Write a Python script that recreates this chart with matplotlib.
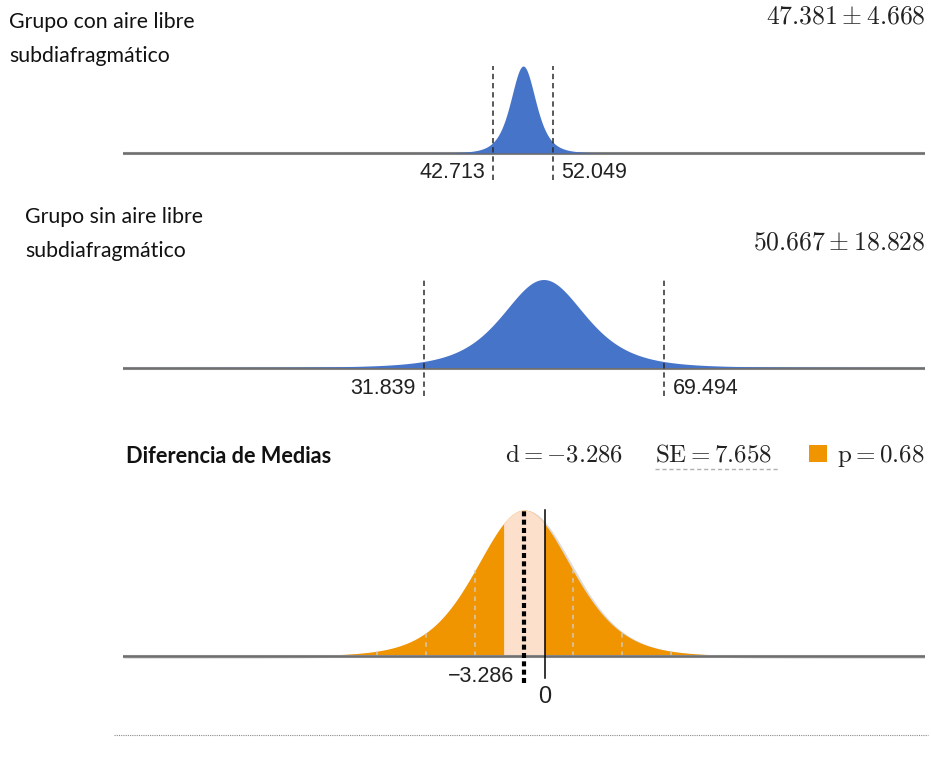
import numpy as np
import matplotlib.pyplot as plt
from matplotlib.lines import Line2D
from matplotlib.patches import Rectangle

# data
group_labels = ['Grupo con aire libre\nsubdiafragmático',
                'Grupo sin aire libre\nsubdiafragmático']
group_means = [47.381, 50.667]
group_half = [4.668, 18.828]
group_low = [42.713, 31.839]
group_high = [52.049, 69.494]
group_scale = [2.05, 6.78]   # spread of the drawn curves

diff_title = 'Diferencia de Medias'
diff_d = -3.286
diff_se = 7.658
diff_p = 0.68

DF_GROUP = 4
DF_DIFF = 8

W, H = 931, 761
BLUE = '#4674C9'
ORANGE = '#F09400'
LIGHT = '#FDE0CB'
BASE = '#858585'
WORD_FONT = ['Lato', 'DejaVu Sans']
LABEL_FONT = ['Liberation Sans', 'DejaVu Sans']

plt.rcParams['mathtext.fontset'] = 'cm'


def tcurve(x, mu, s, df):
    z = (x - mu) / s
    return (1 + z ** 2 / df) ** (-(df + 1) / 2)


def fx(px):
    return px / W


def fy(py):
    return 1 - py / H


def panel(fig, top, bottom, base, peak, xlim):
    # axes in pixel box; y=0 at baseline, y=1 at curve peak
    ax = fig.add_axes([fx(123), fy(bottom), fx(925) - fx(123), (bottom - top) / H])
    unit = base - peak
    ax.set_ylim(-(bottom - base) / unit, (base - top) / unit)
    ax.set_xlim(*xlim)
    ax.axis('off')
    return ax


fig = plt.figure(figsize=(W / 100, H / 100), dpi=100)

group_xlim = (-15.34, 110.37)
boxes = [(55, 195, 153, 66), (270, 410, 368, 280)]
label_pos = [(9, 28), (25, 223)]
stat_y = [23, 250]
label_y = [172, 388]

for i in range(2):
    top, bottom, base, peak = boxes[i]
    unit = base - peak
    ax = panel(fig, top, bottom, base, peak, group_xlim)
    s = group_scale[i]
    x = np.linspace(group_means[i] - 14 * s, group_means[i] + 14 * s, 800)
    y = tcurve(x, group_means[i], s, DF_GROUP)
    ax.fill_between(x, 0, y, color=BLUE, lw=0, zorder=2)
    ax.axhline(0, color=BASE, lw=2.2, zorder=1)
    ax.axhline(0, color='#5a5a5a', lw=0.6, zorder=3, alpha=0.6)
    bot = -(label_y[i] + 8 - base) / unit
    for v in (group_low[i], group_high[i]):
        ax.plot([v, v], [bot, 1.0], color='#2b2b2b', lw=1.1,
                ls=(0, (3.5, 2.5)), zorder=4, clip_on=False)
    ax.text(group_low[i] - 1.3, -(label_y[i] - base) / unit,
            f'{group_low[i]:.3f}', ha='right', va='center',
            fontsize=15.5, family=LABEL_FONT, color='#222222')
    ax.text(group_high[i] + 1.3, -(label_y[i] - base) / unit,
            f'{group_high[i]:.3f}', ha='left', va='center',
            fontsize=15.5, family=LABEL_FONT, color='#222222')

    lx, ly = label_pos[i]
    lines = group_labels[i].split('\n')
    fig.text(fx(lx), fy(ly), lines[0], ha='left', va='baseline',
             fontsize=15.3, family=WORD_FONT, color='#111111')
    fig.text(fx(lx), fy(ly + 34), lines[1], ha='left', va='baseline',
             fontsize=15.3, family=WORD_FONT, color='#111111')
    fig.text(fx(926), fy(stat_y[i]),
             r'$%.3f \pm %.3f$' % (group_means[i], group_half[i]),
             ha='right', va='baseline', fontsize=18.5, color='#222222')

# difference panel
diff_xlim = (-66.14, 59.56)
base, peak = 656, 510
ax = panel(fig, 500, 715, base, peak, diff_xlim)
unit = base - peak
x = np.linspace(-66.14, 59.56, 1200)
y = tcurve(x, diff_d, diff_se, DF_DIFF)
ax.plot(x + 0.35, y - 0.012, color='#bbbbbb', lw=1.5, alpha=0.5, zorder=1)
ax.fill_between(x, 0, y, color=ORANGE, lw=0, zorder=2)
inner = (x >= 2 * diff_d) & (x <= 0)
ax.fill_between(x[inner], 0, y[inner], color=LIGHT, lw=0, zorder=3)
for k in (-3, -2, -1, 1, 2, 3):
    v = diff_d + k * diff_se
    ax.plot([v, v], [0, tcurve(v, diff_d, diff_se, DF_DIFF)], color='#cfcfcf',
            lw=1.1, ls=(0, (3, 3)), alpha=0.9, zorder=4)
ax.axhline(0, color=BASE, lw=2.2, zorder=5)
ax.axhline(0, color='#5a5a5a', lw=0.6, zorder=5, alpha=0.6)
ax.plot([diff_d, diff_d], [-(683 - base) / unit, 1.0], color='black', lw=3.0,
        ls=(0, (1.2, 0.8)), zorder=6, clip_on=False)
ax.plot([0, 0], [-(678 - base) / unit, 1.0], color='black', lw=1.1, zorder=6,
        clip_on=False)
ax.text(diff_d - 1.6, -(676 - base) / unit, f'{diff_d:.3f}'.replace('-', '\u2212'),
        ha='right', va='center', fontsize=15.5, family=LABEL_FONT, color='#222222')
ax.text(0, -(697 - base) / unit, '0', ha='center', va='center',
        fontsize=17, family=LABEL_FONT, color='#222222')

fig.text(fx(126), fy(463), diff_title, ha='left', va='baseline',
         fontsize=15.7, fontweight='bold', family=WORD_FONT, color='#111111')
fig.text(fx(505), fy(462), r'$\mathrm{d} = %.3f$' % diff_d, ha='left',
         va='baseline', fontsize=17.8, color='#222222')
fig.text(fx(655), fy(462), r'$\mathrm{SE} = %.3f$' % diff_se, ha='left',
         va='baseline', fontsize=18, color='#222222')
fig.add_artist(Line2D([fx(655), fx(778)], [fy(469), fy(469)], color='#b0b0b0',
                      lw=1.0, ls=(0, (3, 2))))
fig.add_artist(Rectangle((fx(809), fy(462)), fx(18), 17 / H, color=ORANGE,
                         lw=0))
fig.text(fx(924), fy(462), r'$\mathrm{p} = %.2f$' % diff_p, ha='right',
         va='baseline', fontsize=18, color='#222222')

# dotted separator at the bottom
fig.add_artist(Line2D([fx(114), fx(928)], [fy(735), fy(735)], color='#8a8a8a',
                      lw=0.8, ls=(0, (1, 1))))

fig.savefig('out.png', dpi=100)
